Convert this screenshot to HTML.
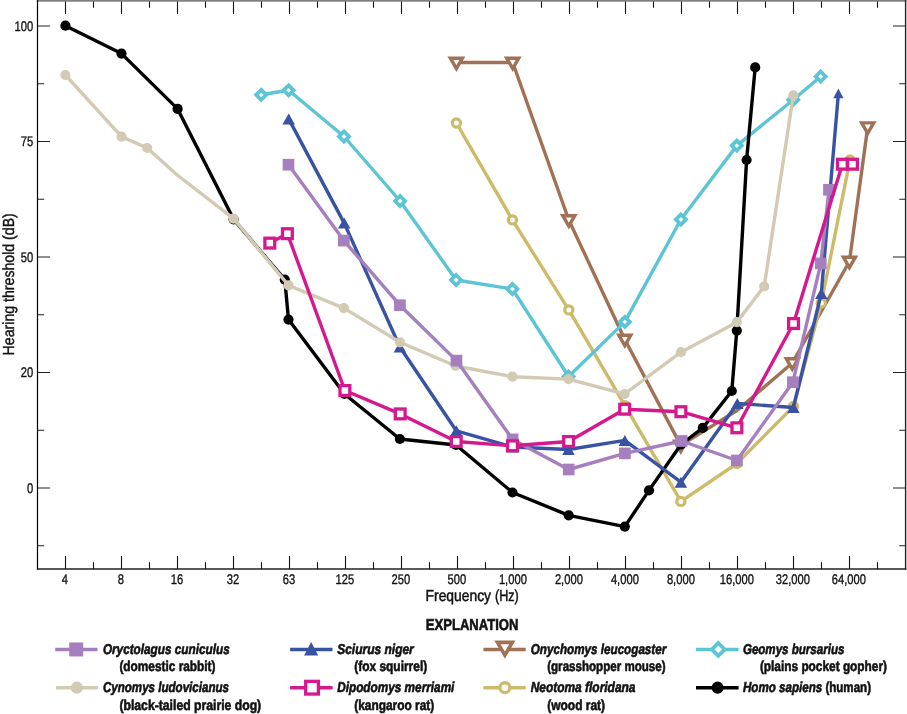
<!DOCTYPE html>
<html lang="en">
<head>
<meta charset="utf-8">
<title>Hearing threshold chart</title>
<style>
html,body{margin:0;padding:0;background:#fff;}
body{width:907px;height:714px;overflow:hidden;font-family:"Liberation Sans",sans-serif;}
svg{display:block;will-change:transform;}
text{text-rendering:geometricPrecision;}
</style>
</head>
<body>
<svg width="907" height="714" viewBox="0 0 907 714">
<rect width="907" height="714" fill="#fff"/>
<path d="M65.5 569V556M65.5 0V13.9M93.5 569V562.3M93.5 0V7.8M121.5 569V556M121.5 0V13.9M149.5 569V562.3M149.5 0V7.8M177.5 569V556M177.5 0V13.9M205.5 569V562.3M205.5 0V7.8M233.5 569V556M233.5 0V13.9M261.5 569V562.3M261.5 0V7.8M289.5 569V556M289.5 0V13.9M317.5 569V562.3M317.5 0V7.8M345.5 569V556M345.5 0V13.9M373.5 569V562.3M373.5 0V7.8M401.5 569V556M401.5 0V13.9M429.5 569V562.3M429.5 0V7.8M457.5 569V556M457.5 0V13.9M485.5 569V562.3M485.5 0V7.8M513.5 569V556M513.5 0V13.9M541.5 569V562.3M541.5 0V7.8M569.5 569V556M569.5 0V13.9M597.5 569V562.3M597.5 0V7.8M625.5 569V556M625.5 0V13.9M653.5 569V562.3M653.5 0V7.8M681.5 569V556M681.5 0V13.9M709.5 569V562.3M709.5 0V7.8M737.5 569V556M737.5 0V13.9M765.5 569V562.3M765.5 0V7.8M793.5 569V556M793.5 0V13.9M821.5 569V562.3M821.5 0V7.8M849.5 569V556M849.5 0V13.9M877.5 569V562.3M877.5 0V7.8" stroke="#111" stroke-width="1.1" fill="none"/>
<path d="M37.5 26H50.1M905.6 26H893M37.5 83.75H44.2M905.6 83.75H899.3M37.5 141.5H50.1M905.6 141.5H893M37.5 199.25H44.2M905.6 199.25H899.3M37.5 257H50.1M905.6 257H893M37.5 314.75H44.2M905.6 314.75H899.3M37.5 372.5H50.1M905.6 372.5H893M37.5 430.25H44.2M905.6 430.25H899.3M37.5 488H50.1M905.6 488H893M37.5 545.75H44.2M905.6 545.75H899.3" stroke="#222" stroke-width="1.1" fill="none"/>
<rect x="36.9" y="0" width="869.4" height="1.7" fill="#808080"/>
<path d="M37.5 0V569.7" stroke="#000" stroke-width="1.2" fill="none"/>
<path d="M905.6 0V569.7" stroke="#222" stroke-width="1.4" fill="none"/>
<path d="M36.9 569H906.3" stroke="#222" stroke-width="1.3" fill="none"/>
<g>
<polyline points="456.4,62.5 512.7,62.5 568.8,220 624.8,339.5 680.8,445.4 737,410.5 792.3,363 849.4,261.5 867.7,127.2" fill="none" stroke="#a07155" stroke-width="3.4" stroke-linejoin="round"/>
<path d="M450.4 58.2L462.4 58.2L456.4 68.6Z" fill="#fff" stroke="#a07155" stroke-width="3.4" stroke-linejoin="miter"/>
<path d="M506.7 58.2L518.7 58.2L512.7 68.6Z" fill="#fff" stroke="#a07155" stroke-width="3.4" stroke-linejoin="miter"/>
<path d="M562.8 215.7L574.8 215.7L568.8 226.1Z" fill="#fff" stroke="#a07155" stroke-width="3.4" stroke-linejoin="miter"/>
<path d="M618.8 335.2L630.8 335.2L624.8 345.6Z" fill="#fff" stroke="#a07155" stroke-width="3.4" stroke-linejoin="miter"/>
<path d="M674.8 441.1L686.8 441.1L680.8 451.5Z" fill="#fff" stroke="#a07155" stroke-width="3.4" stroke-linejoin="miter"/>
<path d="M786.3 358.7L798.3 358.7L792.3 369.1Z" fill="#fff" stroke="#a07155" stroke-width="3.4" stroke-linejoin="miter"/>
<path d="M843.4 257.2L855.4 257.2L849.4 267.6Z" fill="#fff" stroke="#a07155" stroke-width="3.4" stroke-linejoin="miter"/>
<path d="M861.7 122.9L873.7 122.9L867.7 133.3Z" fill="#fff" stroke="#a07155" stroke-width="3.4" stroke-linejoin="miter"/>
</g>
<g>
<polyline points="456.4,123 512.4,219.9 568.8,309.9 625,405.6 680.9,501.4 736.9,463.5 793.4,406.5 821.3,303 850,160" fill="none" stroke="#cdbb69" stroke-width="3.4" stroke-linejoin="round"/>
<circle cx="456.4" cy="123" r="4.1" fill="#fff" stroke="#cdbb69" stroke-width="3.2"/>
<circle cx="512.4" cy="219.9" r="4.1" fill="#fff" stroke="#cdbb69" stroke-width="3.2"/>
<circle cx="568.8" cy="309.9" r="4.1" fill="#fff" stroke="#cdbb69" stroke-width="3.2"/>
<circle cx="625" cy="405.6" r="4.1" fill="#fff" stroke="#cdbb69" stroke-width="3.2"/>
<circle cx="680.9" cy="501.4" r="4.1" fill="#fff" stroke="#cdbb69" stroke-width="3.2"/>
<circle cx="736.9" cy="463.5" r="4.1" fill="#fff" stroke="#cdbb69" stroke-width="3.2"/>
<circle cx="793.4" cy="406.5" r="4.1" fill="#fff" stroke="#cdbb69" stroke-width="3.2"/>
<circle cx="821.3" cy="303" r="4.1" fill="#fff" stroke="#cdbb69" stroke-width="3.2"/>
<circle cx="850" cy="160" r="4.1" fill="#fff" stroke="#cdbb69" stroke-width="3.2"/>
</g>
<g>
<polyline points="261.2,94.8 288.6,90.3 344,136.5 400.1,201 456.1,280 512.4,289 568.6,376.5 624.8,321.9 680.9,219.5 736.8,145.6 793.3,99.8 820.7,76.5" fill="none" stroke="#5cc5d5" stroke-width="3.4" stroke-linejoin="round"/>
<path d="M261.2 89.8L266.2 94.8L261.2 99.8L256.2 94.8Z" fill="#fff" stroke="#5cc5d5" stroke-width="3.75" stroke-linejoin="miter"/>
<path d="M288.6 85.3L293.6 90.3L288.6 95.3L283.6 90.3Z" fill="#fff" stroke="#5cc5d5" stroke-width="3.75" stroke-linejoin="miter"/>
<path d="M344 131.5L349 136.5L344 141.5L339 136.5Z" fill="#fff" stroke="#5cc5d5" stroke-width="3.75" stroke-linejoin="miter"/>
<path d="M400.1 196L405.1 201L400.1 206L395.1 201Z" fill="#fff" stroke="#5cc5d5" stroke-width="3.75" stroke-linejoin="miter"/>
<path d="M456.1 275L461.1 280L456.1 285L451.1 280Z" fill="#fff" stroke="#5cc5d5" stroke-width="3.75" stroke-linejoin="miter"/>
<path d="M512.4 284L517.4 289L512.4 294L507.4 289Z" fill="#fff" stroke="#5cc5d5" stroke-width="3.75" stroke-linejoin="miter"/>
<path d="M568.6 371.5L573.6 376.5L568.6 381.5L563.6 376.5Z" fill="#fff" stroke="#5cc5d5" stroke-width="3.75" stroke-linejoin="miter"/>
<path d="M624.8 316.9L629.8 321.9L624.8 326.9L619.8 321.9Z" fill="#fff" stroke="#5cc5d5" stroke-width="3.75" stroke-linejoin="miter"/>
<path d="M680.9 214.5L685.9 219.5L680.9 224.5L675.9 219.5Z" fill="#fff" stroke="#5cc5d5" stroke-width="3.75" stroke-linejoin="miter"/>
<path d="M736.8 140.6L741.8 145.6L736.8 150.6L731.8 145.6Z" fill="#fff" stroke="#5cc5d5" stroke-width="3.75" stroke-linejoin="miter"/>
<path d="M793.3 94.8L798.3 99.8L793.3 104.8L788.3 99.8Z" fill="#fff" stroke="#5cc5d5" stroke-width="3.75" stroke-linejoin="miter"/>
<path d="M820.7 71.5L825.7 76.5L820.7 81.5L815.7 76.5Z" fill="#fff" stroke="#5cc5d5" stroke-width="3.75" stroke-linejoin="miter"/>
</g>
<g>
<polyline points="65.4,25.7 121.5,53.6 177.6,108.9 233.6,219.3 284.8,279.7 288.5,319.6 344.5,394 399.9,439 456,445 512.5,492.5 568.7,515.3 624.8,526.6 649,490.4 681,444.5 702.8,427.9 731.8,391 736.8,330.6 746.6,160 755.2,67.4" fill="none" stroke="#000000" stroke-width="3.4" stroke-linejoin="round"/>
<circle cx="65.4" cy="25.7" r="5.1" fill="#000000"/>
<circle cx="121.5" cy="53.6" r="5.1" fill="#000000"/>
<circle cx="177.6" cy="108.9" r="5.1" fill="#000000"/>
<circle cx="233.6" cy="219.3" r="5.1" fill="#000000"/>
<circle cx="284.8" cy="279.7" r="5.1" fill="#000000"/>
<circle cx="288.5" cy="319.6" r="5.1" fill="#000000"/>
<circle cx="344.5" cy="394" r="5.1" fill="#000000"/>
<circle cx="399.9" cy="439" r="5.1" fill="#000000"/>
<circle cx="456" cy="445" r="5.1" fill="#000000"/>
<circle cx="512.5" cy="492.5" r="5.1" fill="#000000"/>
<circle cx="568.7" cy="515.3" r="5.1" fill="#000000"/>
<circle cx="624.8" cy="526.6" r="5.1" fill="#000000"/>
<circle cx="649" cy="490.4" r="5.1" fill="#000000"/>
<circle cx="681" cy="444.5" r="5.1" fill="#000000"/>
<circle cx="702.8" cy="427.9" r="5.1" fill="#000000"/>
<circle cx="731.8" cy="391" r="5.1" fill="#000000"/>
<circle cx="736.8" cy="330.6" r="5.1" fill="#000000"/>
<circle cx="746.6" cy="160" r="5.1" fill="#000000"/>
<circle cx="755.2" cy="67.4" r="5.1" fill="#000000"/>
</g>
<g>
<polyline points="288.7,118.9 344.2,223.1 399.9,347 456.3,430.8 512.5,447 568.5,449.5 624.8,440.4 680.9,482.2 737.3,403.4 793.4,407.5 821.3,293.5 838.4,93.4" fill="none" stroke="#3953a4" stroke-width="3.4" stroke-linejoin="round"/>
<path d="M288.7 113.4L294.95 124.4L282.45 124.4Z" fill="#3953a4"/>
<path d="M344.2 217.6L350.45 228.6L337.95 228.6Z" fill="#3953a4"/>
<path d="M399.9 341.5L406.15 352.5L393.65 352.5Z" fill="#3953a4"/>
<path d="M456.3 425.3L462.55 436.3L450.05 436.3Z" fill="#3953a4"/>
<path d="M512.5 441.5L518.75 452.5L506.25 452.5Z" fill="#3953a4"/>
<path d="M568.5 444L574.75 455L562.25 455Z" fill="#3953a4"/>
<path d="M624.8 434.9L631.05 445.9L618.55 445.9Z" fill="#3953a4"/>
<path d="M680.9 476.7L687.15 487.7L674.65 487.7Z" fill="#3953a4"/>
<path d="M737.3 397.9L743.55 408.9L731.05 408.9Z" fill="#3953a4"/>
<path d="M793.4 402L799.65 413L787.15 413Z" fill="#3953a4"/>
<path d="M821.3 288L827.55 299L815.05 299Z" fill="#3953a4"/>
<path d="M838.4 88.6L843.5 98.2L833.3 98.2Z" fill="#3953a4"/>
</g>
<g>
<polyline points="65.4,75 121.5,136.6 147.2,148 177.2,175 233.6,218.7 288.5,285.4 343.9,308.1 400,342.3 455.7,366 512.4,376.7 568.5,379.1 624.6,394 681,352.2 736.8,322.2 764.2,286.4 793.3,95.3" fill="none" stroke="#d2cab3" stroke-width="3.4" stroke-linejoin="round"/>
<circle cx="65.4" cy="75" r="5.1" fill="#d2cab3"/>
<circle cx="121.5" cy="136.6" r="5.1" fill="#d2cab3"/>
<circle cx="147.2" cy="148" r="5.1" fill="#d2cab3"/>
<circle cx="233.6" cy="218.7" r="5.1" fill="#d2cab3"/>
<circle cx="288.5" cy="285.4" r="5.1" fill="#d2cab3"/>
<circle cx="343.9" cy="308.1" r="5.1" fill="#d2cab3"/>
<circle cx="400" cy="342.3" r="5.1" fill="#d2cab3"/>
<circle cx="455.7" cy="366" r="5.1" fill="#d2cab3"/>
<circle cx="512.4" cy="376.7" r="5.1" fill="#d2cab3"/>
<circle cx="568.5" cy="379.1" r="5.1" fill="#d2cab3"/>
<circle cx="624.6" cy="394" r="5.1" fill="#d2cab3"/>
<circle cx="681" cy="352.2" r="5.1" fill="#d2cab3"/>
<circle cx="736.8" cy="322.2" r="5.1" fill="#d2cab3"/>
<circle cx="764.2" cy="286.4" r="5.1" fill="#d2cab3"/>
<circle cx="793.3" cy="95.3" r="5.1" fill="#d2cab3"/>
</g>
<g>
<polyline points="288.5,164.7 343.8,240.6 399.9,305.2 456.5,360.6 512.6,439.4 568.7,469.5 624.9,453.4 681.6,441 736.9,460.5 792.9,382.2 820.8,263.4 829,189.8" fill="none" stroke="#a67fbf" stroke-width="3.4" stroke-linejoin="round"/>
<rect x="282.65" y="158.85" width="11.7" height="11.7" fill="#a67fbf"/>
<rect x="337.95" y="234.75" width="11.7" height="11.7" fill="#a67fbf"/>
<rect x="394.05" y="299.35" width="11.7" height="11.7" fill="#a67fbf"/>
<rect x="450.65" y="354.75" width="11.7" height="11.7" fill="#a67fbf"/>
<rect x="506.75" y="433.55" width="11.7" height="11.7" fill="#a67fbf"/>
<rect x="562.85" y="463.65" width="11.7" height="11.7" fill="#a67fbf"/>
<rect x="619.05" y="447.55" width="11.7" height="11.7" fill="#a67fbf"/>
<rect x="675.75" y="435.15" width="11.7" height="11.7" fill="#a67fbf"/>
<rect x="731.05" y="454.65" width="11.7" height="11.7" fill="#a67fbf"/>
<rect x="787.05" y="376.35" width="11.7" height="11.7" fill="#a67fbf"/>
<rect x="814.95" y="257.55" width="11.7" height="11.7" fill="#a67fbf"/>
<rect x="823.15" y="183.95" width="11.7" height="11.7" fill="#a67fbf"/>
</g>
<g>
<polyline points="269.8,243.1 287.4,233.7 344.9,390.5 400.2,413.9 456.2,441.5 512.5,445.8 568.6,441.5 624.7,409.2 680.9,411.7 736.9,427.8 793.5,323.5 842.4,164.2 852.5,164.2" fill="none" stroke="#d4198f" stroke-width="3.4" stroke-linejoin="round"/>
<rect x="264.9" y="238.2" width="9.8" height="9.8" fill="#fff" stroke="#d4198f" stroke-width="3.3"/>
<rect x="282.5" y="228.8" width="9.8" height="9.8" fill="#fff" stroke="#d4198f" stroke-width="3.3"/>
<rect x="340" y="385.6" width="9.8" height="9.8" fill="#fff" stroke="#d4198f" stroke-width="3.3"/>
<rect x="395.3" y="409" width="9.8" height="9.8" fill="#fff" stroke="#d4198f" stroke-width="3.3"/>
<rect x="451.3" y="436.6" width="9.8" height="9.8" fill="#fff" stroke="#d4198f" stroke-width="3.3"/>
<rect x="507.6" y="440.9" width="9.8" height="9.8" fill="#fff" stroke="#d4198f" stroke-width="3.3"/>
<rect x="563.7" y="436.6" width="9.8" height="9.8" fill="#fff" stroke="#d4198f" stroke-width="3.3"/>
<rect x="619.8" y="404.3" width="9.8" height="9.8" fill="#fff" stroke="#d4198f" stroke-width="3.3"/>
<rect x="676" y="406.8" width="9.8" height="9.8" fill="#fff" stroke="#d4198f" stroke-width="3.3"/>
<rect x="732" y="422.9" width="9.8" height="9.8" fill="#fff" stroke="#d4198f" stroke-width="3.3"/>
<rect x="788.6" y="318.6" width="9.8" height="9.8" fill="#fff" stroke="#d4198f" stroke-width="3.3"/>
<rect x="837.5" y="159.3" width="9.8" height="9.8" fill="#fff" stroke="#d4198f" stroke-width="3.3"/>
<rect x="847.6" y="159.3" width="9.8" height="9.8" fill="#fff" stroke="#d4198f" stroke-width="3.3"/>
</g>
<g font-family="&quot;Liberation Sans&quot;, sans-serif" fill="#111">
<text transform="translate(64.9 583.9) scale(0.8 1)" font-size="14" text-anchor="middle" font-weight="normal" font-style="normal" stroke="#111" stroke-width="0.35">4</text>
<text transform="translate(120.9 583.9) scale(0.8 1)" font-size="14" text-anchor="middle" font-weight="normal" font-style="normal" stroke="#111" stroke-width="0.35">8</text>
<text transform="translate(176.9 583.9) scale(0.8 1)" font-size="14" text-anchor="middle" font-weight="normal" font-style="normal" stroke="#111" stroke-width="0.35">16</text>
<text transform="translate(232.9 583.9) scale(0.8 1)" font-size="14" text-anchor="middle" font-weight="normal" font-style="normal" stroke="#111" stroke-width="0.35">32</text>
<text transform="translate(288.9 583.9) scale(0.8 1)" font-size="14" text-anchor="middle" font-weight="normal" font-style="normal" stroke="#111" stroke-width="0.35">63</text>
<text transform="translate(344.9 583.9) scale(0.8 1)" font-size="14" text-anchor="middle" font-weight="normal" font-style="normal" stroke="#111" stroke-width="0.35">125</text>
<text transform="translate(400.9 583.9) scale(0.8 1)" font-size="14" text-anchor="middle" font-weight="normal" font-style="normal" stroke="#111" stroke-width="0.35">250</text>
<text transform="translate(456.9 583.9) scale(0.8 1)" font-size="14" text-anchor="middle" font-weight="normal" font-style="normal" stroke="#111" stroke-width="0.35">500</text>
<text transform="translate(512.9 583.9) scale(0.8 1)" font-size="14" text-anchor="middle" font-weight="normal" font-style="normal" stroke="#111" stroke-width="0.35">1,000</text>
<text transform="translate(568.9 583.9) scale(0.8 1)" font-size="14" text-anchor="middle" font-weight="normal" font-style="normal" stroke="#111" stroke-width="0.35">2,000</text>
<text transform="translate(624.9 583.9) scale(0.8 1)" font-size="14" text-anchor="middle" font-weight="normal" font-style="normal" stroke="#111" stroke-width="0.35">4,000</text>
<text transform="translate(680.9 583.9) scale(0.8 1)" font-size="14" text-anchor="middle" font-weight="normal" font-style="normal" stroke="#111" stroke-width="0.35">8,000</text>
<text transform="translate(736.9 583.9) scale(0.8 1)" font-size="14" text-anchor="middle" font-weight="normal" font-style="normal" stroke="#111" stroke-width="0.35">16,000</text>
<text transform="translate(792.9 583.9) scale(0.8 1)" font-size="14" text-anchor="middle" font-weight="normal" font-style="normal" stroke="#111" stroke-width="0.35">32,000</text>
<text transform="translate(848.9 583.9) scale(0.8 1)" font-size="14" text-anchor="middle" font-weight="normal" font-style="normal" stroke="#111" stroke-width="0.35">64,000</text>
<text transform="translate(33.2 30.8) scale(0.8 1)" font-size="14" text-anchor="end" font-weight="normal" font-style="normal" stroke="#111" stroke-width="0.35">100</text>
<text transform="translate(33.2 146.3) scale(0.8 1)" font-size="14" text-anchor="end" font-weight="normal" font-style="normal" stroke="#111" stroke-width="0.35">75</text>
<text transform="translate(33.2 261.8) scale(0.8 1)" font-size="14" text-anchor="end" font-weight="normal" font-style="normal" stroke="#111" stroke-width="0.35">50</text>
<text transform="translate(33.2 377.3) scale(0.8 1)" font-size="14" text-anchor="end" font-weight="normal" font-style="normal" stroke="#111" stroke-width="0.35">20</text>
<text transform="translate(33.2 492.8) scale(0.8 1)" font-size="14" text-anchor="end" font-weight="normal" font-style="normal" stroke="#111" stroke-width="0.35">0</text>
<text x="425.6" y="600.6" font-size="16" font-weight="normal" font-style="normal" textLength="65.4" lengthAdjust="spacingAndGlyphs" stroke="#111" stroke-width="0.5">Frequency</text>
<text x="495" y="600.6" font-size="16" font-weight="normal" font-style="normal" textLength="23.8" lengthAdjust="spacingAndGlyphs" stroke="#111" stroke-width="0.5">(Hz)</text>
<text transform="translate(13.9 355.4) rotate(-90)" font-size="16" stroke="#111" stroke-width="0.4" textLength="142.2" lengthAdjust="spacingAndGlyphs">Hearing threshold (dB)</text>
<text x="425.8" y="629.7" font-size="15.8" font-weight="bold" font-style="normal" textLength="92.6" lengthAdjust="spacingAndGlyphs" stroke="#111" stroke-width="0.6">EXPLANATION</text>
<path d="M55.2 649.45H97.6" stroke="#a67fbf" stroke-width="3.55" fill="none"/>
<rect x="69.2" y="642.45" width="14" height="14" fill="#a67fbf"/>
<text x="102.9" y="653.85" font-size="14.3" font-weight="bold" font-style="italic" textLength="126.8" lengthAdjust="spacingAndGlyphs" stroke="#111" stroke-width="0.6">Oryctolagus cuniculus</text>
<text x="119.4" y="671.25" font-size="14.3" font-weight="bold" font-style="normal" textLength="96.1" lengthAdjust="spacingAndGlyphs" stroke="#111" stroke-width="0.6">(domestic rabbit)</text>
<path d="M56 687.7H98.2" stroke="#d2cab3" stroke-width="3.55" fill="none"/>
<circle cx="76.8" cy="687.7" r="6.1" fill="#d2cab3"/>
<text x="102.9" y="692.1" font-size="14.3" font-weight="bold" font-style="italic" textLength="126.1" lengthAdjust="spacingAndGlyphs" stroke="#111" stroke-width="0.6">Cynomys ludovicianus</text>
<text x="119.4" y="709.5" font-size="14.3" font-weight="bold" font-style="normal" textLength="141.8" lengthAdjust="spacingAndGlyphs" stroke="#111" stroke-width="0.6">(black-tailed prairie dog)</text>
<path d="M290.1 649.45H332.5" stroke="#3953a4" stroke-width="3.55" fill="none"/>
<path d="M311.15 642.1L318.25 655.4L304.05 655.4Z" fill="#3953a4"/>
<text x="337.2" y="653.85" font-size="14.3" font-weight="bold" font-style="italic" textLength="76.6" lengthAdjust="spacingAndGlyphs" stroke="#111" stroke-width="0.6">Sciurus niger</text>
<text x="354.2" y="671.25" font-size="14.3" font-weight="bold" font-style="normal" textLength="73" lengthAdjust="spacingAndGlyphs" stroke="#111" stroke-width="0.6">(fox squirrel)</text>
<path d="M290.1 687.7H332.6" stroke="#d4198f" stroke-width="3.55" fill="none"/>
<rect x="305.7" y="681.35" width="12.7" height="12.7" fill="#fff" stroke="#d4198f" stroke-width="3.3"/>
<text x="337.2" y="692.1" font-size="14.3" font-weight="bold" font-style="italic" textLength="117.2" lengthAdjust="spacingAndGlyphs" stroke="#111" stroke-width="0.6">Dipodomys merriami</text>
<text x="354.2" y="709.5" font-size="14.3" font-weight="bold" font-style="normal" textLength="80.1" lengthAdjust="spacingAndGlyphs" stroke="#111" stroke-width="0.6">(kangaroo rat)</text>
<path d="M483.4 649.45H525.7" stroke="#a07155" stroke-width="3.55" fill="none"/>
<path d="M497.45 642.35L512.35 642.35L504.9 655.25Z" fill="#fff" stroke="#a07155" stroke-width="3.6" stroke-linejoin="miter"/>
<text x="530.7" y="653.85" font-size="14.3" font-weight="bold" font-style="italic" textLength="135.6" lengthAdjust="spacingAndGlyphs" stroke="#111" stroke-width="0.6">Onychomys leucogaster</text>
<text x="547.2" y="671.25" font-size="14.3" font-weight="bold" font-style="normal" textLength="118.4" lengthAdjust="spacingAndGlyphs" stroke="#111" stroke-width="0.6">(grasshopper mouse)</text>
<path d="M483.4 687.7H525.7" stroke="#cdbb69" stroke-width="3.55" fill="none"/>
<circle cx="504.9" cy="687.7" r="4.95" fill="#fff" stroke="#cdbb69" stroke-width="3.3"/>
<text x="530.7" y="692.1" font-size="14.3" font-weight="bold" font-style="italic" textLength="104.8" lengthAdjust="spacingAndGlyphs" stroke="#111" stroke-width="0.6">Neotoma floridana</text>
<text x="547.2" y="709.5" font-size="14.3" font-weight="bold" font-style="normal" textLength="57.9" lengthAdjust="spacingAndGlyphs" stroke="#111" stroke-width="0.6">(wood rat)</text>
<path d="M696 649.45H738.6" stroke="#5cc5d5" stroke-width="3.55" fill="none"/>
<path d="M718.3 643L724.75 649.45L718.3 655.9L711.85 649.45Z" fill="#fff" stroke="#5cc5d5" stroke-width="3.75" stroke-linejoin="miter"/>
<text x="742.9" y="653.85" font-size="14.3" font-weight="bold" font-style="italic" textLength="101.5" lengthAdjust="spacingAndGlyphs" stroke="#111" stroke-width="0.6">Geomys bursarius</text>
<text x="759.9" y="671.25" font-size="14.3" font-weight="bold" font-style="normal" textLength="127.1" lengthAdjust="spacingAndGlyphs" stroke="#111" stroke-width="0.6">(plains pocket gopher)</text>
<path d="M696 687.7H738.6" stroke="#000000" stroke-width="3.55" fill="none"/>
<circle cx="717.6" cy="687.7" r="6.1" fill="#000000"/>
<text x="742.9" y="692.1" font-size="14.3" font-weight="bold" font-style="italic" textLength="79.4" lengthAdjust="spacingAndGlyphs" stroke="#111" stroke-width="0.6">Homo sapiens</text>
<text x="825.4" y="692.1" font-size="14.3" font-weight="bold" font-style="normal" textLength="45.6" lengthAdjust="spacingAndGlyphs" stroke="#111" stroke-width="0.6">(human)</text>
</g>
</svg>
</body>
</html>
